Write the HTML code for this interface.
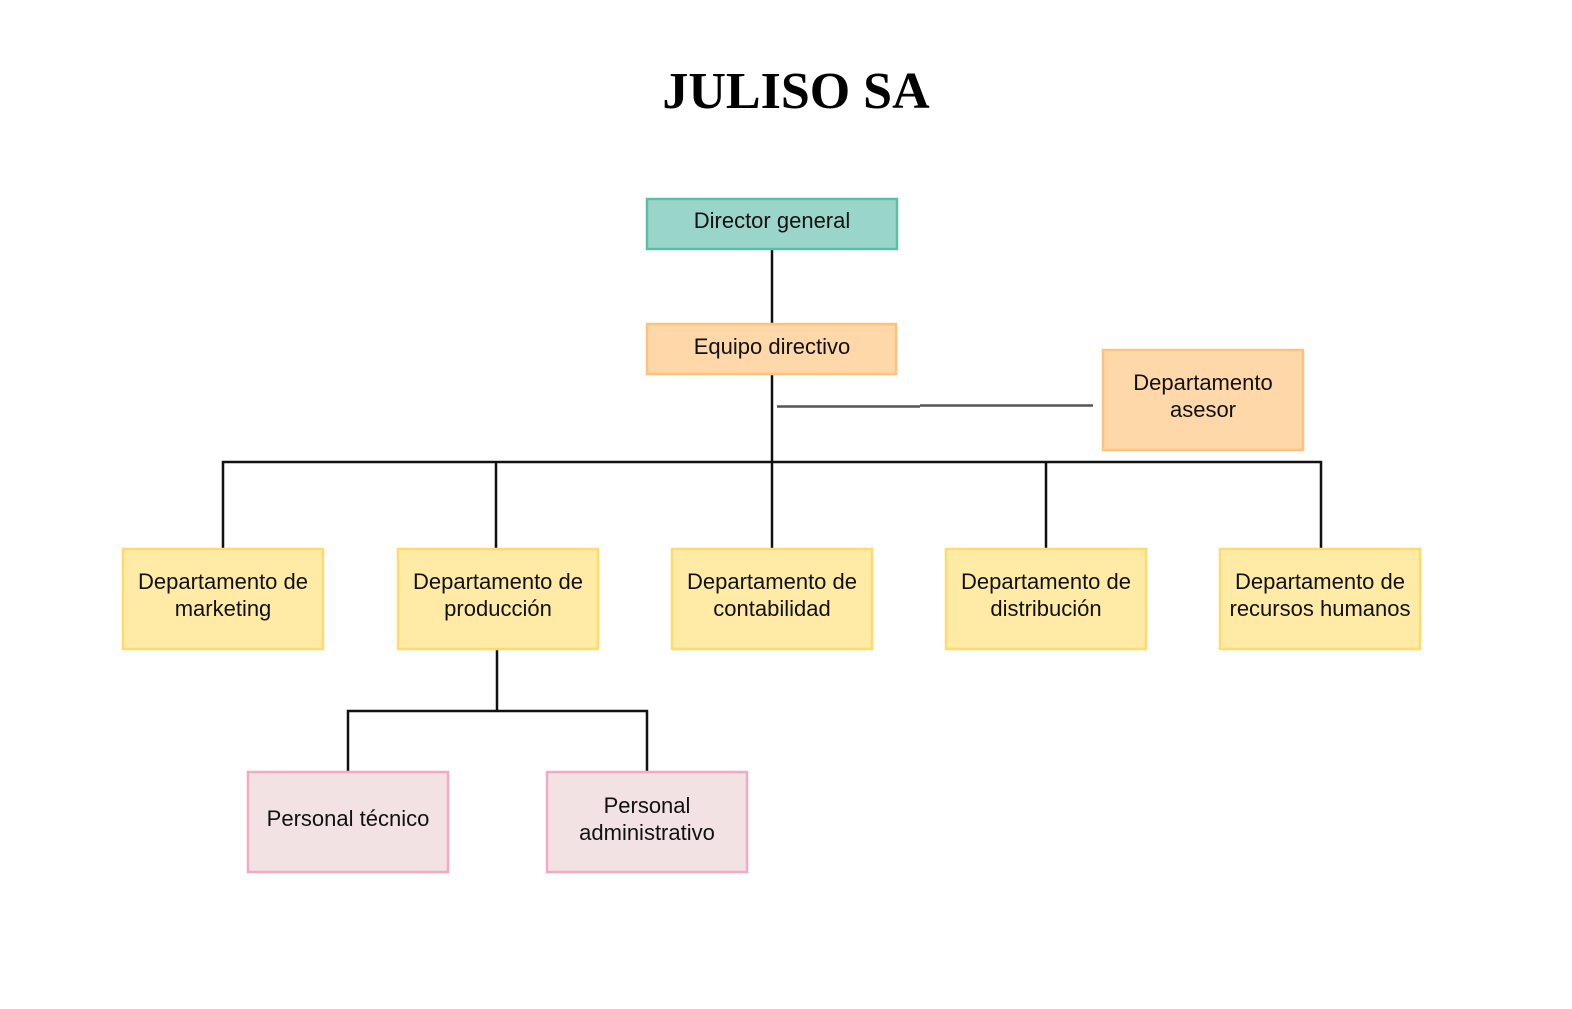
<!DOCTYPE html>
<html><head><meta charset="utf-8"><style>
body{margin:0;background:#fff}
svg text{font-family:"Liberation Sans",sans-serif;font-size:22px;fill:#111;text-anchor:middle}
</style></head><body>
<svg width="1572" height="1004" viewBox="0 0 1572 1004" xmlns="http://www.w3.org/2000/svg">
<text x="796" y="108" style="font-family:'Liberation Serif',serif;font-weight:bold;font-size:52px;fill:#000">JULISO SA</text>
<g stroke="#111" stroke-width="2.5" fill="none">
<path d="M772 249V324M772 374V549M223 549V462H1321V549M496 462V549M1046 462V549"/>
<path d="M497 649V711M348 772V711H647V772"/>
</g>
<path d="M777 406.5H920M920 405.5H1093" stroke="#555" stroke-width="2.5"/>
<g stroke-width="2.5">
<rect x="647" y="199" width="250" height="50" fill="#9ad5ca" stroke="#5bbfa5"/>
<rect x="647" y="324" width="249" height="50" fill="#fed8a8" stroke="#fdc27c"/>
<rect x="1103" y="350" width="200" height="100" fill="#fed8a8" stroke="#fdc27c"/>
<g fill="#ffeaa6" stroke="#fedc6c">
<rect x="123" y="549" width="200" height="100"/>
<rect x="398" y="549" width="200" height="100"/>
<rect x="672" y="549" width="200" height="100"/>
<rect x="946" y="549" width="200" height="100"/>
<rect x="1220" y="549" width="200" height="100"/>
</g>
<g fill="#f3e2e3" stroke="#f2aac6">
<rect x="248" y="772" width="200" height="100"/>
<rect x="547" y="772" width="200" height="100"/>
</g>
</g>
<text x="772" y="228">Director general</text>
<text x="772" y="354">Equipo directivo</text>
<text x="1203" y="390">Departamento</text><text x="1203" y="417">asesor</text>
<text x="223" y="589">Departamento de</text><text x="223" y="616">marketing</text>
<text x="498" y="589">Departamento de</text><text x="498" y="616">producción</text>
<text x="772" y="589">Departamento de</text><text x="772" y="616">contabilidad</text>
<text x="1046" y="589">Departamento de</text><text x="1046" y="616">distribución</text>
<text x="1320" y="589">Departamento de</text><text x="1320" y="616">recursos humanos</text>
<text x="348" y="826">Personal técnico</text>
<text x="647" y="813">Personal</text><text x="647" y="840">administrativo</text>
</svg>
</body></html>
